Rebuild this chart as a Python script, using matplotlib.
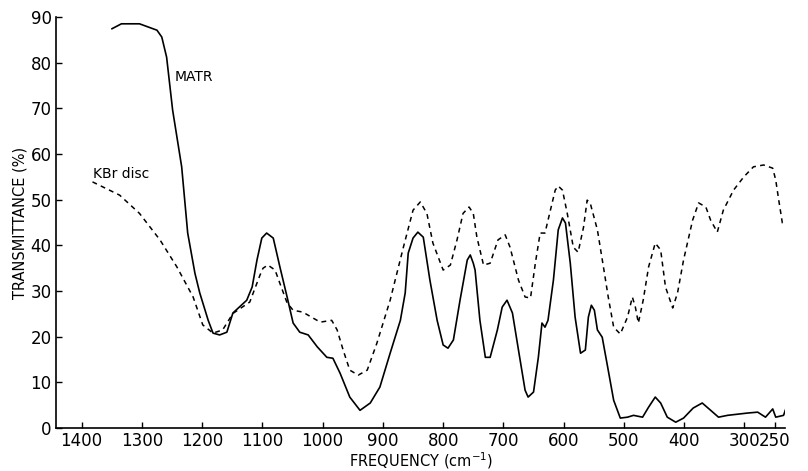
import numpy as np
import matplotlib
matplotlib.use("Agg")
import matplotlib.pyplot as plt

# MATR spectrum (solid line), frequency in cm^-1, transmittance in %
matr_freq = [1350, 1334, 1304, 1275, 1267, 1259, 1249, 1234, 1224, 1212, 1204, 1190,
             1182, 1171, 1159, 1149, 1126, 1117, 1109, 1101, 1093, 1082, 1071, 1059,
             1049, 1038, 1024, 1009, 993, 983, 971, 955, 938, 921, 905, 888, 871, 863,
             858, 850, 842, 833, 822, 810, 800, 792, 783, 772, 760, 755, 750, 747,
             739, 730, 722, 710, 702, 694, 685, 675, 664, 659, 650, 642, 636, 631,
             626, 617, 609, 602, 597, 589, 581, 572, 564, 559, 554, 549, 544, 536,
             527, 517, 506, 494, 484, 469, 459, 448, 439, 428, 414, 401, 385, 370,
             356, 343, 328, 295, 278, 265, 253, 248, 235, 228]
matr_trans = [87.4, 88.5, 88.5, 87.1, 85.6, 81.2, 69.6, 57.2, 42.7, 33.9, 29.6, 23.6,
              20.8, 20.4, 21.0, 25.2, 28.0, 30.9, 36.8, 41.6, 42.7, 41.6, 35.3, 28.7,
              23.0, 21.0, 20.4, 17.8, 15.5, 15.3, 12.0, 6.8, 3.9, 5.5, 9.0, 16.4, 23.6, 29.6,
              38.3, 41.6, 42.9, 41.8, 32.4, 23.6, 18.2, 17.5, 19.3, 28.0, 36.8, 37.9, 36.1, 34.6,
              23.6, 15.5, 15.5, 21.5, 26.5, 28.0, 25.2, 17.1, 8.3, 6.8, 7.9, 15.5, 23.0, 22.1,
              23.6, 32.4, 43.4, 46.0, 44.9, 36.1, 24.3, 16.4, 17.1, 24.3, 26.9, 25.8, 21.5, 19.9,
              13.4, 6.1, 2.2, 2.4, 2.8, 2.4, 4.6, 6.8, 5.5, 2.4, 1.3, 2.2, 4.4, 5.5,
              3.9, 2.4, 2.8, 3.3, 3.5, 2.4, 4.2, 2.4, 2.8, 5.5]

# KBr disc spectrum (dashed line)
kbr_freq = [1382, 1337, 1304, 1270, 1242, 1215, 1199, 1182, 1166, 1149, 1121, 1104,
            1099, 1091, 1079, 1071, 1059, 1049, 1033, 1016, 1004, 985, 976, 966, 955,
            941, 926, 910, 888, 866, 850, 838, 827, 817, 800, 788, 777, 767, 757,
            750, 744, 733, 722, 709, 697, 689, 675, 664, 655, 647, 639, 631, 622,
            614, 609, 602, 594, 584, 576, 567, 561, 556, 544, 534, 526, 517, 506,
            494, 486, 481, 476, 468, 459, 448, 439, 431, 419, 411, 401, 386, 376,
            364, 356, 345, 335, 318, 301, 285, 268, 253, 248, 243, 237, 228]
kbr_trans = [53.9, 51.0, 47.0, 41.2, 35.3, 28.7, 22.6, 20.8, 21.5, 25.1, 27.6, 33.5,
             35.0, 35.7, 34.6, 31.7, 27.4, 25.8, 25.4, 24.1, 23.2, 23.6, 21.5, 17.1, 12.7,
             11.6, 12.7, 18.6, 28.0, 39.6, 47.7, 49.5, 47.0, 40.5, 34.6, 35.7, 41.2, 47.0, 48.4,
             47.0, 41.8, 35.7, 36.1, 41.2, 42.3, 39.6, 32.4, 28.7, 28.5, 36.1, 42.7, 42.7, 47.7,
             52.1, 53.0, 52.1, 47.0, 39.6, 38.5, 44.0, 49.9, 49.3, 43.4, 35.3, 28.7, 22.1, 20.6,
             24.3, 28.7, 26.5, 23.0, 28.0, 35.3, 40.5, 39.0, 30.9, 26.3, 29.6, 36.8, 45.5, 49.3,
             48.4, 45.5, 42.9, 47.7, 52.1, 55.0, 57.2, 57.6, 56.9, 54.3, 49.9, 44.9, 44.4]

x_ticks = [1400, 1300, 1200, 1100, 1000, 900, 800, 700, 600, 500, 400, 300, 250]
y_ticks = [0, 10, 20, 30, 40, 50, 60, 70, 80, 90]

fig = plt.figure(figsize=(8.08, 4.71), dpi=100)
ax = fig.add_axes([0.069, 0.091, 0.903, 0.873])

ax.plot(matr_freq, matr_trans, color='black', linewidth=1.2,
        solid_joinstyle='round', solid_capstyle='round')
ax.plot(kbr_freq, kbr_trans, color='black', linewidth=1.1, linestyle=(0, (3.2, 2.8)))

ax.text(1245, 76.9, 'MATR', fontsize=10, va='center', ha='left')
ax.text(1382, 55.6, 'KBr disc', fontsize=10, va='center', ha='left')

ax.set_xlim(1443, 232)
ax.set_ylim(0, 90)
ax.set_xticks(x_ticks)
ax.set_xticklabels([str(v) for v in x_ticks])
ax.set_yticks(y_ticks)

for side in ['top', 'right']:
    ax.spines[side].set_visible(False)
ax.spines['left'].set_linewidth(1.2)
ax.spines['bottom'].set_linewidth(1.2)
ax.tick_params(direction='in', length=4, width=1, labelsize=12, pad=3)

ax.set_xlabel('FREQUENCY (cm$^{-1}$)', fontsize=10.5, labelpad=0)
ax.set_ylabel('TRANSMITTANCE (%)', fontsize=10.5, labelpad=2)

fig.savefig('out.png', dpi=100)
